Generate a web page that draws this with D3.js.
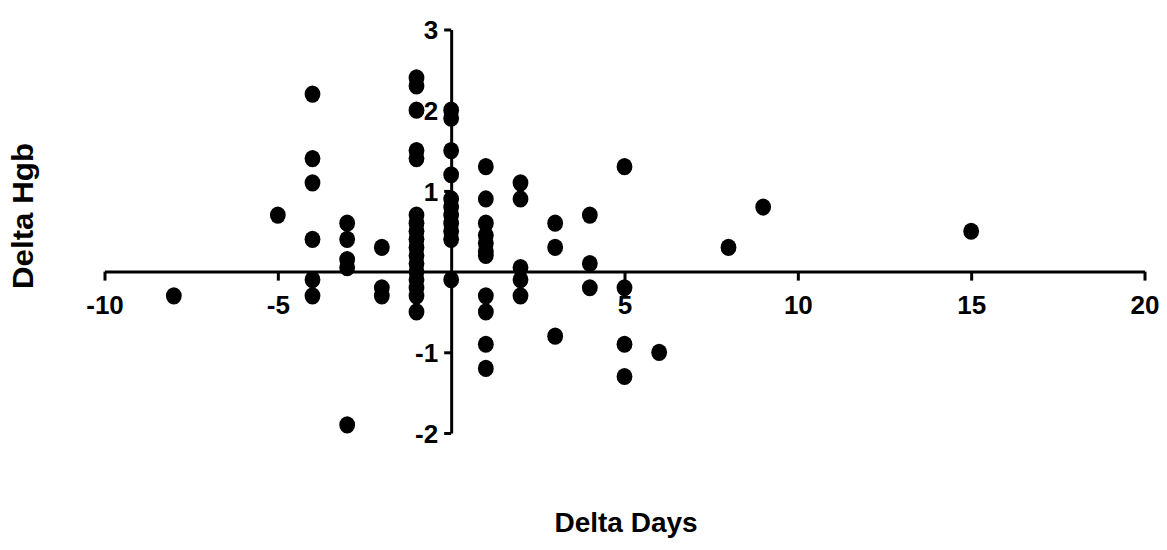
<!DOCTYPE html>
<html>
<head>
<meta charset="utf-8">
<script src="https://cdn.jsdelivr.net/npm/d3@7"></script>
<style>
  body { margin: 0; background: #fff; }
  svg { display: block; }
</style>
</head>
<body>
<div id="chart"></div>
<script>
// delta days (x) and delta Hgb (y), one entry per patient
var deltaDays = [
  -8,
  -5,
  -4, -4, -4, -4, -4, -4,
  -3, -3, -3, -3, -3,
  -2, -2, -2,
  -1, -1, -1, -1, -1, -1, -1, -1, -1, -1, -1, -1, -1, -1, -1, -1, -1,
  0, 0, 0, 0, 0, 0, 0, 0, 0, 0, 0,
  1, 1, 1, 1, 1, 1, 1, 1, 1, 1, 1,
  2, 2, 2, 2, 2,
  3, 3, 3,
  4, 4, 4,
  5, 5, 5, 5,
  6,
  8,
  9,
  15
];
var deltaHgb = [
  -0.3,
  0.7,
  2.2, 1.4, 1.1, 0.4, -0.1, -0.3,
  0.6, 0.4, 0.15, 0.05, -1.9,
  0.3, -0.2, -0.3,
  2.4, 2.3, 2.0, 1.5, 1.4, 0.7, 0.6, 0.5, 0.4, 0.3, 0.2, 0.1, 0.0, -0.1, -0.2, -0.3, -0.5,
  2.0, 1.9, 1.5, 1.2, 0.9, 0.8, 0.7, 0.6, 0.5, 0.4, -0.1,
  1.3, 0.9, 0.6, 0.45, 0.35, 0.25, 0.2, -0.3, -0.5, -0.9, -1.2,
  1.1, 0.9, 0.05, -0.1, -0.3,
  0.6, 0.3, -0.8,
  0.7, 0.1, -0.2,
  1.3, -0.2, -0.9, -1.3,
  -1.0,
  0.3,
  0.8,
  0.5
];

var xTicks = [-10, -5, 5, 10, 15, 20];
var yTicks = [-2, -1, 1, 2, 3];

var width = 1167,
  height = 550;

var x = d3.scaleLinear().domain([-10, 20]).range([104.5, 1144.5]);
var y = d3.scaleLinear().domain([-2, 3]).range([433, 29.5]);

var svg = d3.select("#chart").append("svg")
  .attr("width", width)
  .attr("height", height);

var tickFont = "'Liberation Sans', Arial, sans-serif";
// plain hyphen for negatives, like the original
var fmt = function (d) { return String(d); };

// x axis runs through y = 0
var xAxis = svg.append("g")
  .attr("transform", "translate(0," + y(0) + ")")
  .call(d3.axisBottom(x).tickValues(xTicks).tickSize(9).tickSizeOuter(0).tickPadding(15).tickFormat(fmt));

// y axis runs through x = 0
var yAxis = svg.append("g")
  .attr("transform", "translate(" + x(0) + ",0)")
  .call(d3.axisLeft(y).tickValues(yTicks).tickSize(7).tickSizeOuter(0).tickPadding(6).tickFormat(fmt));

[xAxis, yAxis].forEach(function (g) {
  g.select(".domain").attr("stroke", "#000").attr("stroke-width", 3);
  g.selectAll(".tick line").attr("stroke", "#000").attr("stroke-width", 3);
  g.selectAll(".tick text")
    .attr("fill", "#000")
    .style("font-family", tickFont)
    .style("font-weight", "bold")
    .style("font-size", "26px");
});
yAxis.selectAll(".tick text").attr("dy", "0.36em");

// points
svg.append("g")
  .selectAll("ellipse")
  .data(deltaDays.map(function (d, i) { return [d, deltaHgb[i]]; }))
  .enter().append("ellipse")
  .attr("cx", function (d) { return x(d[0]); })
  .attr("cy", function (d) { return y(d[1]); })
  .attr("rx", 7.9)
  .attr("ry", 8.6)
  .attr("fill", "#000");

// axis titles
svg.append("text")
  .attr("x", 626)
  .attr("y", 532)
  .attr("text-anchor", "middle")
  .style("font-family", tickFont)
  .style("font-weight", "bold")
  .style("font-size", "28px")
  .text("Delta Days");

svg.append("text")
  .attr("transform", "translate(33,216) rotate(-90)")
  .attr("text-anchor", "middle")
  .attr("textLength", 146)
  .attr("lengthAdjust", "spacingAndGlyphs")
  .style("font-family", tickFont)
  .style("font-weight", "bold")
  .style("font-size", "29px")
  .text("Delta Hgb");
</script>
</body>
</html>
